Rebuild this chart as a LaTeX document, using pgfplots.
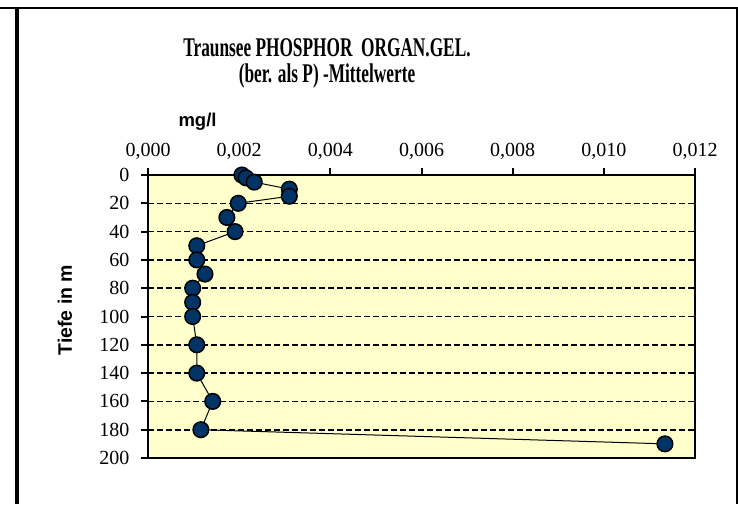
\documentclass[border=0pt]{standalone}
\usepackage{fontspec}
\setmainfont{Liberation Serif}
\setsansfont{Liberation Sans}
\newfontfamily\titlefont[FakeStretch=0.64]{Liberation Serif}
\usepackage{pgfplots}
\usepackage{pgfplotstable}
\pgfplotsset{compat=1.18}
\definecolor{plotbg}{HTML}{FFFFCC}
\definecolor{navy}{HTML}{003366}

% mean values: concentration (mg/l) vs depth (m)
\pgfplotstableread{
conc    depth
0.00206 0
0.00215 2
0.00233 5
0.00310 10
0.00310 15
0.00198 20
0.00173 30
0.00191 40
0.00107 50
0.00107 60
0.00125 70
0.00098 80
0.00098 90
0.00098 100
0.00107 120
0.00107 140
0.00142 160
0.00116 180
0.01134 190
}\phosphor

\begin{document}
\begin{tikzpicture}
\useasboundingbox (0,0) rectangle (738pt,-504pt);
% outer chart frame (cropped)
\draw[line width=2pt] (0,-8pt) -- (737pt,-8pt);
\draw[line width=4pt] (17pt,-7pt) -- (17pt,-504pt);
\draw[line width=2pt] (737pt,-7pt) -- (737pt,-504pt);

\begin{axis}[
  scale only axis,
  width=547pt, height=283pt,
  at={(148pt,-458pt)}, anchor=south west,
  y dir=reverse,
  xmin=0, xmax=0.012, ymin=0, ymax=200,
  xtick={0,0.002,0.004,0.006,0.008,0.010,0.012},
  ytick={0,20,40,60,80,100,120,140,160,180,200},
  xtick pos=right, xticklabel pos=right,
  ytick pos=left,
  scaled x ticks=false,
  /pgf/number format/assume math mode=true,
  xticklabel style={yshift=5pt, /pgf/number format/.cd, fixed,
    fixed zerofill, precision=3, use comma},
  yticklabel style={xshift=-8pt},
  tick label style={font=\fontsize{20}{24}\selectfont},
  tick align=outside,
  major tick length=7pt,
  every tick/.style={draw=black, line width=2pt},
  axis line style={line width=2pt},
  axis background/.style={fill=plotbg},
  ymajorgrids,
  major grid style={black, line width=1.6pt, dash pattern=on 6pt off 3pt},
  clip mode=individual,
]
\addplot[black, line width=1pt, mark=*, mark size=7.8pt,
  mark options={fill=navy, draw=black, line width=1.5pt}]
  table[x=conc, y=depth] {\phosphor};
\end{axis}

\node[anchor=base, font=\titlefont\bfseries\fontsize{27}{31}\selectfont]
  at (327pt,-56pt) {Traunsee PHOSPHOR \ ORGAN.GEL.};
\node[anchor=base, font=\titlefont\bfseries\fontsize{27}{31}\selectfont]
  at (327pt,-82pt) {(ber. als P) -Mittelwerte};
\node[anchor=base west, font=\sffamily\bfseries\fontsize{18.5}{22}\selectfont]
  at (175pt,-126pt) {mg/l};
\node[rotate=90, font=\sffamily\bfseries\fontsize{19.5}{23}\selectfont]
  at (65pt,-310pt) {Tiefe in m};
\end{tikzpicture}
\end{document}
